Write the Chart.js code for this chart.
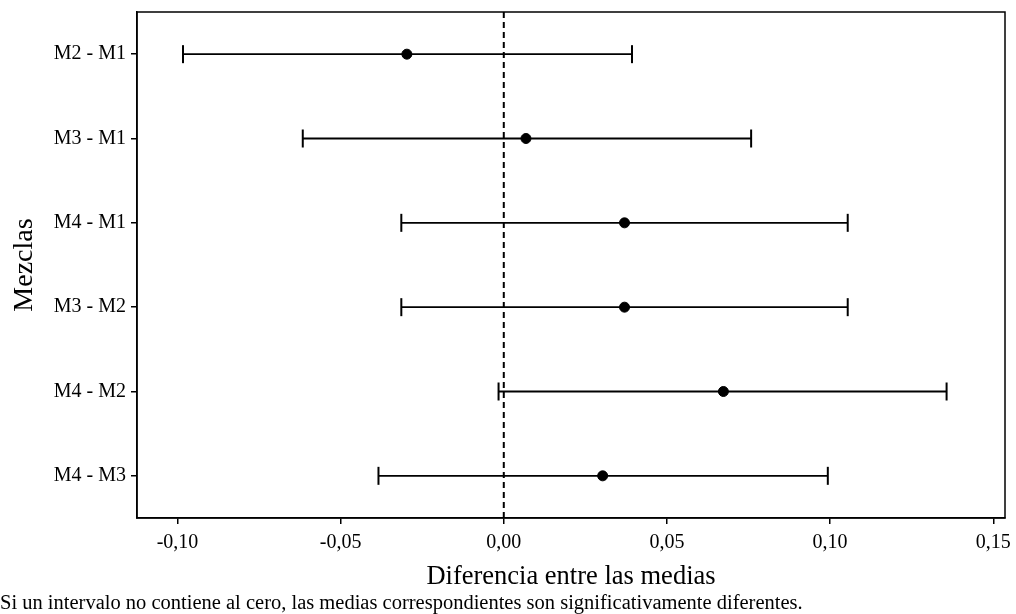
<html>
<head>
    <meta charset="utf-8">
    <title>Diferencia entre las medias</title>
    <script src="https://cdn.jsdelivr.net/npm/chart.js@4.4.1/dist/chart.umd.min.js"></script>
    <style>
        body { margin: 0; background: #fff; }
        #box { width: 1016px; height: 614px; }
    </style>
</head>
<body>
    <div id="box">
        <canvas id="myChart"></canvas>
    </div>
    <script>
        const categories = ['M2 - M1', 'M3 - M1', 'M4 - M1', 'M3 - M2', 'M4 - M2', 'M4 - M3'];
        const centers = [-0.0297, 0.0068, 0.0370, 0.0370, 0.0673, 0.0303];
        const lowers = [-0.0983, -0.0616, -0.0314, -0.0314, -0.0016, -0.0384];
        const uppers = [0.0393, 0.0758, 0.1054, 0.1054, 0.1357, 0.0993];
        const xTicks = [-0.10, -0.05, 0.00, 0.05, 0.10, 0.15];
        const footnote = 'Si un intervalo no contiene al cero, las medias correspondientes son significativamente diferentes.';

        const FONT = "'Liberation Serif', 'DejaVu Serif', serif";

        const datasets = [];
        // intervalos
        categories.forEach((c, i) => {
            datasets.push({
                type: 'line',
                label: c,
                data: [{ x: lowers[i], y: i }, { x: uppers[i], y: i }],
                borderColor: '#000',
                borderWidth: 1.8,
                pointStyle: 'line',
                rotation: 90,
                pointRadius: 9,
                pointBorderWidth: 2,
                pointBorderColor: '#000',
                fill: false
            });
        });
        // medias
        datasets.push({
            type: 'scatter',
            label: 'medias',
            data: centers.map((v, i) => ({ x: v, y: i })),
            backgroundColor: '#000',
            borderColor: '#000',
            pointRadius: 5
        });
        // linea del cero
        datasets.push({
            type: 'line',
            label: 'cero',
            data: [{ x: 0, y: -0.5 }, { x: 0, y: 5.5 }],
            borderColor: '#000',
            borderWidth: 2,
            borderDash: [6, 4],
            pointRadius: 0
        });

        const frame = {
            id: 'frame',
            afterDraw(chart) {
                const a = chart.chartArea;
                const g = chart.ctx;
                g.save();
                g.strokeStyle = '#000';
                g.lineWidth = 1.5;
                g.strokeRect(a.left, a.top, a.right - a.left, a.bottom - a.top);
                g.restore();
            }
        };

        const config = {
            type: 'scatter',
            data: { datasets: datasets },
            options: {
                responsive: true,
                maintainAspectRatio: false,
                animation: false,
                layout: { padding: { top: 12, right: 0, left: 0, bottom: 0 } },
                plugins: {
                    legend: { display: false },
                    tooltip: { enabled: false },
                    subtitle: {
                        display: true,
                        text: footnote,
                        position: 'bottom',
                        align: 'start',
                        color: '#000',
                        font: { family: FONT, size: 20.5, lineHeight: 1.0 },
                        padding: { top: 0, bottom: 0 }
                    }
                },
                scales: {
                    x: {
                        type: 'linear',
                        min: -0.1124,
                        max: 0.1536,
                        afterBuildTicks: s => { s.ticks = xTicks.map(v => ({ value: v })); },
                        afterFit: s => { s.height = 75.5; s.paddingLeft = 0; s.paddingRight = 0; },
                        ticks: {
                            color: '#000',
                            padding: 7,
                            font: { family: FONT, size: 20 },
                            callback: v => v.toFixed(2).replace('.', ',')
                        },
                        grid: { drawOnChartArea: false, drawTicks: true, tickLength: 6, color: '#000', lineWidth: 1.5 },
                        border: { color: '#000', width: 1.5 },
                        title: {
                            display: true,
                            text: 'Diferencia entre las medias',
                            color: '#000',
                            font: { family: FONT, size: 26.5 },
                            padding: { top: 0, bottom: 1 }
                        }
                    },
                    y: {
                        type: 'linear',
                        min: -0.5,
                        max: 5.5,
                        reverse: true,
                        afterBuildTicks: s => { s.ticks = categories.map((c, i) => ({ value: i })); },
                        afterFit: s => { s.width = 137; s.paddingTop = 0; s.paddingBottom = 0; },
                        ticks: {
                            color: '#000',
                            padding: 5,
                            font: { family: FONT, size: 20 },
                            callback: v => categories[v]
                        },
                        grid: { drawOnChartArea: false, drawTicks: true, tickLength: 6, color: '#000', lineWidth: 1.5 },
                        border: { color: '#000', width: 1.5 },
                        title: {
                            display: true,
                            text: 'Mezclas',
                            color: '#000',
                            font: { family: FONT, size: 28 },
                            padding: { top: 8, bottom: 4 }
                        }
                    }
                }
            },
            plugins: [frame]
        };

        const myChart = new Chart(document.getElementById('myChart'), config);
    </script>
</body>
</html>
